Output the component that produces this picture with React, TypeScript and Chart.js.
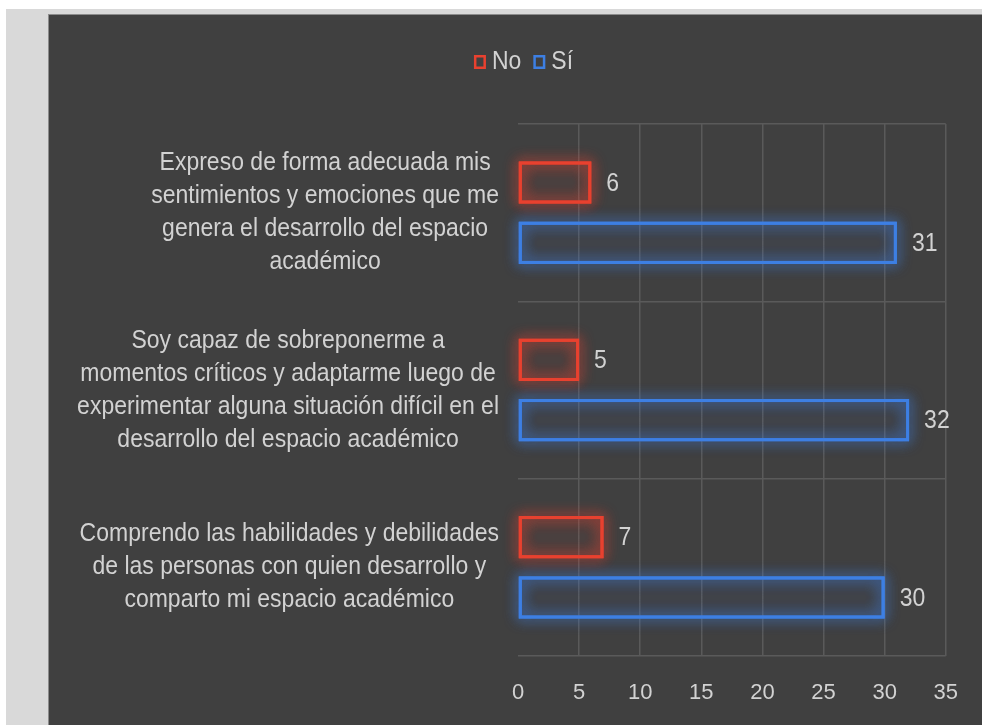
import { useEffect, useRef } from 'react';
import { Chart, registerables } from 'chart.js';

Chart.register(...registerables);

const categories: string[][] = [
  ['Expreso de forma adecuada mis', 'sentimientos y emociones que me', 'genera el desarrollo del espacio', 'académico'],
  ['Soy capaz de sobreponerme a', 'momentos críticos y adaptarme luego de', 'experimentar alguna situación difícil en el', 'desarrollo del espacio académico'],
  ['Comprendo las habilidades y debilidades', 'de las personas con quien desarrollo y', 'comparto mi espacio académico'],
];
const seriesNames = ['No', 'Sí'];
const noValues = [6, 5, 7];
const siValues = [31, 32, 30];
const xMin = 0;
const xMax = 35;
const xStep = 5;

const FONT = "'Liberation Sans', Arial, sans-serif";
const TEXT = '#d2d2d2';
const RED = '#e8412f';
const BLUE = '#3d7fe3';
const GRID = '#5a5a5a';
const STRETCH = 1.12;

function stretchedText(ctx: any, text: string, x: number, y: number) {
  ctx.save();
  ctx.translate(x, y);
  ctx.scale(1, STRETCH);
  ctx.fillText(text, 0, 0);
  ctx.restore();
}

const glowPlugin = {
  id: 'glow',
  beforeDatasetsDraw(chart: any) {
    const ctx = chart.ctx;
    chart.data.datasets.forEach((ds: any, i: number) => {
      const meta = chart.getDatasetMeta(i);
      ctx.save();
      ctx.shadowColor = ds.borderColor;
      ctx.shadowBlur = 14;
      ctx.strokeStyle = ds.borderColor;
      ctx.globalAlpha = 0.8;
      ctx.lineWidth = 3;
      for (let k = 0; k < 2; k++) {
        meta.data.forEach((el: any) => {
          const p = el.getProps(['x', 'y', 'base', 'height'], true);
          const left = Math.min(p.base, p.x);
          ctx.strokeRect(left + 1.5, p.y - p.height / 2 + 1.5, Math.abs(p.x - p.base) - 3, p.height - 3);
        });
      }
      ctx.restore();
    });
  },
};

const valueLabelPlugin = {
  id: 'valueLabels',
  afterDatasetsDraw(chart: any) {
    const ctx = chart.ctx;
    ctx.save();
    ctx.font = `23px ${FONT}`;
    ctx.fillStyle = TEXT;
    ctx.textAlign = 'left';
    ctx.textBaseline = 'middle';
    chart.data.datasets.forEach((ds: any, i: number) => {
      const meta = chart.getDatasetMeta(i);
      meta.data.forEach((el: any, j: number) => {
        const p = el.getProps(['x', 'y'], true);
        stretchedText(ctx, String(ds.data[j]), p.x + 15, p.y + 1);
      });
    });
    ctx.restore();
  },
};

const categoryLabelPlugin = {
  id: 'categoryLabels',
  afterDraw(chart: any) {
    const ctx = chart.ctx;
    const yScale = chart.scales.y;
    const rightEdge = chart.chartArea.left - 19;
    const lineH = 33;
    ctx.save();
    ctx.font = `23px ${FONT}`;
    ctx.fillStyle = TEXT;
    ctx.textAlign = 'center';
    ctx.textBaseline = 'middle';
    categories.forEach((lines, i) => {
      const cy = yScale.getPixelForValue(i);
      const maxW = Math.max(...lines.map((l) => ctx.measureText(l).width));
      const cx = rightEdge - maxW / 2;
      lines.forEach((line, j) => {
        stretchedText(ctx, line, cx, cy + (j - (lines.length - 1) / 2) * lineH);
      });
    });
    ctx.restore();
  },
};

const legendPlugin = {
  id: 'customLegend',
  afterDraw(chart: any) {
    const ctx = chart.ctx;
    ctx.save();
    ctx.font = `23px ${FONT}`;
    ctx.textBaseline = 'middle';
    ctx.textAlign = 'left';
    const box = 12;
    const gap = 6;
    const itemGap = 12;
    const items = chart.data.datasets.map((ds: any) => ({
      label: ds.label,
      color: ds.borderColor,
      w: ctx.measureText(ds.label).width,
    }));
    const total = items.reduce((s: number, it: any) => s + box + gap + it.w, 0) + itemGap * (items.length - 1);
    let x = chart.width / 2 + 8 - total / 2;
    const cy = 46;
    items.forEach((it: any) => {
      ctx.strokeStyle = it.color;
      ctx.lineWidth = 2.5;
      ctx.strokeRect(x + 1.25, cy - box / 2 + 1.25, box - 2.5, box - 2.5 + 2);
      x += box + gap;
      ctx.fillStyle = TEXT;
      stretchedText(ctx, it.label, x, cy + 1);
      x += it.w + itemGap;
    });
    ctx.restore();
  },
};

function BarChart() {
  const ref = useRef<HTMLCanvasElement>(null);
  useEffect(() => {
    if (!ref.current) return;
    const chart = new Chart(ref.current, {
      type: 'bar',
      data: {
        labels: categories.map((c) => c.join(' ')),
        datasets: [
          {
            label: seriesNames[0],
            data: noValues,
            borderColor: RED,
            backgroundColor: 'rgba(232,65,47,0.06)',
            borderWidth: 3,
            borderSkipped: false,
            categoryPercentage: 0.68,
            barPercentage: 0.7,
          },
          {
            label: seriesNames[1],
            data: siValues,
            borderColor: BLUE,
            backgroundColor: 'rgba(61,127,227,0.06)',
            borderWidth: 3,
            borderSkipped: false,
            categoryPercentage: 0.68,
            barPercentage: 0.7,
          },
        ],
      },
      options: {
        indexAxis: 'y',
        responsive: false,
        animation: false,
        layout: { padding: { top: 109, right: 30, left: 0, bottom: 0 } },
        plugins: {
          legend: { display: false },
          tooltip: { enabled: false },
          title: { display: false },
        },
        scales: {
          x: {
            min: xMin,
            max: xMax,
            ticks: {
              stepSize: xStep,
              color: TEXT,
              font: { family: FONT, size: 22 },
              padding: 24,
            },
            grid: {
              color: (c: any) => (c.tick && c.tick.value === 0 ? 'rgba(0,0,0,0)' : GRID),
              lineWidth: 1.5,
              drawTicks: false,
            },
            border: { display: false },
            afterFit: (scale: any) => {
              scale.height = 69;
            },
          },
          y: {
            ticks: { display: false },
            grid: {
              offset: true,
              color: GRID,
              lineWidth: 1.5,
              drawTicks: false,
            },
            border: { display: false },
            afterFit: (scale: any) => {
              scale.width = 469;
            },
          },
        },
      } as any,
      plugins: [glowPlugin, valueLabelPlugin, categoryLabelPlugin, legendPlugin],
    });
    return () => chart.destroy();
  }, []);
  return <canvas ref={ref} width={933} height={710} style={{ display: 'block' }} />;
}

export default function App() {
  return (
    <div style={{ position: 'fixed', inset: 0, background: '#ffffff', overflow: 'hidden' }}>
      <div style={{ position: 'absolute', left: 6, top: 9, right: 0, bottom: 0, background: '#d9d9d9' }} />
      <div style={{ position: 'absolute', left: 48, top: 14, right: 0, bottom: 0, background: '#8c8c8c' }} />
      <div style={{ position: 'absolute', left: 49, top: 15, width: 933, height: 710, background: '#404040' }}>
        <BarChart />
      </div>
    </div>
  );
}
